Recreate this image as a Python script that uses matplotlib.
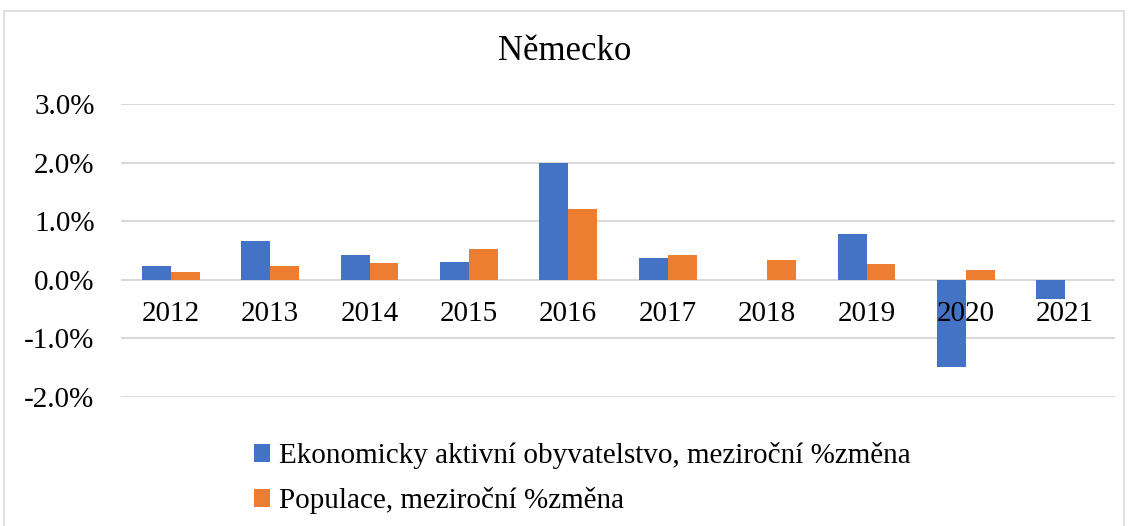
import matplotlib
matplotlib.use("Agg")
import matplotlib.pyplot as plt
from matplotlib.patches import Rectangle
from matplotlib.transforms import blended_transform_factory, offset_copy
import numpy as np

title = "Německo"
years = ["2012", "2013", "2014", "2015", "2016", "2017", "2018", "2019", "2020", "2021"]
econ_active = [0.24, 0.67, 0.43, 0.31, 1.99, 0.38, 0.0, 0.79, -1.48, -0.32]
population = [0.13, 0.23, 0.29, 0.52, 1.20, 0.42, 0.33, 0.27, 0.17, 0.0]
series_names = ["Ekonomicky aktivní obyvatelstvo, meziroční %změna",
                "Populace, meziroční %změna"]
yticks = [-2.0, -1.0, 0.0, 1.0, 2.0, 3.0]

blue = "#4472C4"
orange = "#ED7D31"
serif = ["Liberation Serif", "DejaVu Serif"]
plt.rcParams['font.family'] = serif

fig = plt.figure(figsize=(11.3, 5.26), dpi=100)
fig.patches.append(Rectangle((4 / 1130, -0.01), 1120 / 1130, 1 - 11 / 526 + 0.01,
                             transform=fig.transFigure, fill=False,
                             edgecolor="#d9d9d9", linewidth=1.2))
ax = fig.add_axes([121 / 1130, 1 - 397 / 526, 994 / 1130, 293 / 526])

x = np.arange(len(years))
w = 0.29
b1 = ax.bar(x - w / 2, econ_active, width=w, color=blue, label=series_names[0], zorder=3)
b2 = ax.bar(x + w / 2, population, width=w, color=orange, label=series_names[1], zorder=3)

ax.set_xlim(-0.5, len(years) - 0.5)
ax.set_ylim(yticks[0], yticks[-1])
ax.set_yticks(yticks)
ax.set_yticklabels([f"{v:.1f}%" for v in yticks], fontsize=21)
ax.tick_params(axis='y', length=0, pad=19)
ax.set_xticks([])
ax.grid(axis='y', color="#d9d9d9", linewidth=1.5, zorder=0)
for s in ax.spines.values():
    s.set_visible(False)

trans = offset_copy(blended_transform_factory(ax.transData, ax.transData), fig=fig, x=0, y=-34, units='dots')
for xi, lab in zip(x, years):
    ax.text(xi, 0, lab, transform=trans, ha='center', va='center', fontsize=21, zorder=4)

fig.text(0.5, 1 - 52 / 526, title, ha='center', va='center', fontsize=25)

fig.legend(handles=[b1, b2], labels=series_names, loc='upper left',
           bbox_to_anchor=(228 / 1130, 1 - 416 / 526), frameon=False,
           fontsize=21, handlelength=0.55, handleheight=0.55, handletextpad=0.3,
           labelspacing=0.62)

fig.savefig("out.png", dpi=100)
